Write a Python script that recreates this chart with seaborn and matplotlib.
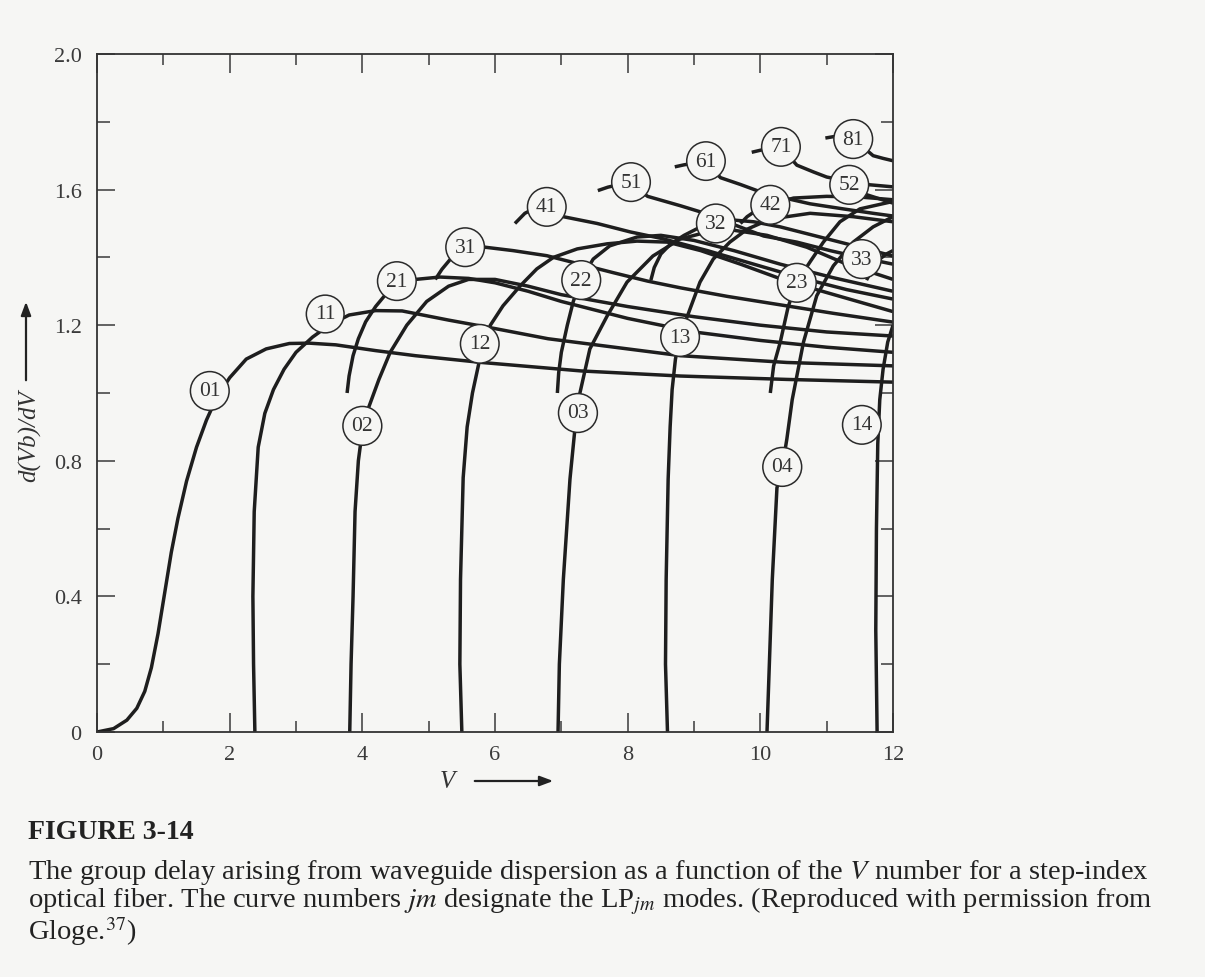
import matplotlib
matplotlib.use("Agg")
import matplotlib.pyplot as plt
import seaborn as sns
import numpy as np

sns.set_theme(style="ticks")
plt.rcParams["font.family"] = ["Liberation Serif", "DejaVu Serif"]
plt.rcParams["mathtext.fontset"] = "stix"

# ---------------- data ----------------
lp01_v = [0, 0.25, 0.45, 0.6, 0.72, 0.82, 0.92, 1.02, 1.12, 1.22, 1.35, 1.5, 1.65, 1.8, 2.0, 2.25, 2.55, 2.9, 3.2, 3.6, 4.2, 4.8, 5.8, 7.3, 8.8, 10.4, 12]
lp01_y = [0, 0.01, 0.035, 0.07, 0.12, 0.19, 0.29, 0.41, 0.53, 0.63, 0.74, 0.84, 0.92, 0.985, 1.045, 1.1, 1.13, 1.146, 1.147, 1.142, 1.125, 1.11, 1.09, 1.065, 1.05, 1.04, 1.032]

lp11_v = [2.38, 2.36, 2.35, 2.37, 2.43, 2.53, 2.66, 2.82, 3.0, 3.25, 3.5, 3.8, 4.2, 4.6, 5.3, 6.0, 6.8, 7.6, 8.8, 10.4, 12]
lp11_y = [0, 0.2, 0.4, 0.65, 0.84, 0.94, 1.01, 1.07, 1.12, 1.165, 1.2, 1.23, 1.243, 1.242, 1.215, 1.19, 1.16, 1.14, 1.11, 1.09, 1.08]

lp21_v = [3.77, 3.8, 3.86, 3.94, 4.05, 4.2, 4.37, 4.52, 4.8, 5.17, 5.6, 6.0, 6.5, 7.0, 8.0, 9.0, 10.0, 11.0, 12]
lp21_y = [1.0, 1.05, 1.11, 1.16, 1.21, 1.255, 1.295, 1.322, 1.335, 1.342, 1.338, 1.325, 1.30, 1.27, 1.22, 1.18, 1.155, 1.135, 1.12]

lp02_v = [3.81, 3.83, 3.86, 3.89, 3.94, 4.0, 4.1, 4.25, 4.42, 4.67, 4.97, 5.3, 5.6, 6.0, 6.5, 7.0, 8.0, 9.0, 10.0, 11.0, 12]
lp02_y = [0, 0.2, 0.4, 0.65, 0.8, 0.89, 0.96, 1.04, 1.12, 1.2, 1.27, 1.315, 1.335, 1.335, 1.315, 1.29, 1.255, 1.225, 1.2, 1.18, 1.168]

lp31_v = [5.1, 5.2, 5.35, 5.55, 5.85, 6.27, 6.78, 7.28, 7.78, 8.3, 8.8, 9.5, 10.3, 11.1, 12]
lp31_y = [1.335, 1.365, 1.40, 1.425, 1.43, 1.42, 1.405, 1.38, 1.355, 1.33, 1.31, 1.285, 1.26, 1.235, 1.209]

lp12_v = [5.5, 5.47, 5.48, 5.52, 5.58, 5.66, 5.77, 5.93, 6.12, 6.38, 6.63, 6.88, 7.24, 7.69, 8.14, 8.6, 9.1, 9.7, 10.4, 11.2, 12]
lp12_y = [0, 0.2, 0.45, 0.75, 0.9, 1.0, 1.1, 1.2, 1.257, 1.316, 1.366, 1.40, 1.425, 1.44, 1.448, 1.445, 1.42, 1.38, 1.33, 1.285, 1.24]

lp41_v = [6.3, 6.45, 6.6, 6.78, 7.03, 7.54, 8.04, 8.53, 9.2, 9.9, 10.6, 11.3, 12]
lp41_y = [1.50, 1.53, 1.545, 1.55, 1.52, 1.50, 1.475, 1.455, 1.42, 1.38, 1.34, 1.305, 1.277]

lp22_v = [6.94, 6.96, 7.0, 7.09, 7.18, 7.3, 7.48, 7.73, 8.14, 8.5, 9.0, 9.6, 10.3, 11.1, 12]
lp22_y = [1.0, 1.06, 1.12, 1.2, 1.27, 1.336, 1.395, 1.434, 1.46, 1.465, 1.45, 1.42, 1.38, 1.34, 1.30]

lp03_v = [6.95, 6.97, 7.03, 7.13, 7.2, 7.28, 7.43, 7.69, 7.99, 8.38, 8.79, 9.2, 9.6, 10.1, 10.7, 11.3, 12]
lp03_y = [0, 0.2, 0.45, 0.746, 0.885, 1.0, 1.13, 1.227, 1.327, 1.404, 1.454, 1.475, 1.48, 1.465, 1.43, 1.38, 1.335]

lp51_v = [7.55, 7.7, 7.85, 8.05, 8.3, 8.8, 9.1, 9.65, 10.05, 10.55, 11.05, 11.5, 12]
lp51_y = [1.597, 1.607, 1.614, 1.617, 1.58, 1.552, 1.534, 1.493, 1.463, 1.445, 1.42, 1.40, 1.38]

lp32_v = [8.35, 8.4, 8.5, 8.65, 8.85, 9.1, 9.33, 9.6, 9.9, 10.3, 10.8, 11.4, 12]
lp32_y = [1.333, 1.37, 1.41, 1.44, 1.465, 1.49, 1.50, 1.51, 1.505, 1.49, 1.465, 1.435, 1.404]

lp13_v = [8.6, 8.57, 8.58, 8.61, 8.64, 8.67, 8.72, 8.79, 8.94, 9.09, 9.29, 9.54, 9.8, 10.15, 10.75, 11.4, 12]
lp13_y = [0, 0.2, 0.45, 0.746, 0.9, 1.01, 1.1, 1.168, 1.248, 1.327, 1.395, 1.445, 1.483, 1.513, 1.53, 1.52, 1.505]

lp61_v = [8.71, 8.85, 9.0, 9.18, 9.4, 9.7, 9.95, 10.3, 10.75, 11.25, 11.7, 12]
lp61_y = [1.667, 1.673, 1.678, 1.68, 1.635, 1.615, 1.597, 1.578, 1.558, 1.543, 1.53, 1.522]

lp42_v = [9.7, 9.8, 9.95, 10.15, 10.5, 11.0, 11.5, 12]
lp42_y = [1.50, 1.52, 1.54, 1.555, 1.575, 1.58, 1.578, 1.57]

lp71_v = [9.87, 10.0, 10.15, 10.31, 10.55, 10.8, 11.0, 11.3, 11.6, 12]
lp71_y = [1.71, 1.716, 1.722, 1.725, 1.672, 1.652, 1.637, 1.625, 1.615, 1.608]

lp23_v = [10.15, 10.2, 10.3, 10.42, 10.55, 10.75, 10.95, 11.2, 11.5, 12]
lp23_y = [1.0, 1.08, 1.15, 1.255, 1.327, 1.387, 1.445, 1.505, 1.543, 1.565]

lp04_v = [10.1, 10.18, 10.25, 10.33, 10.4, 10.48, 10.65, 10.85, 11.1, 11.4, 11.7, 12]
lp04_y = [0, 0.45, 0.72, 0.78, 0.865, 0.98, 1.15, 1.287, 1.375, 1.445, 1.49, 1.52]

lp52_v = [11.07, 11.2, 11.34, 11.6, 12]
lp52_y = [1.60, 1.607, 1.61, 1.585, 1.56]

lp81_v = [10.98, 11.1, 11.25, 11.4, 11.7, 11.85, 12]
lp81_y = [1.752, 1.756, 1.758, 1.75, 1.70, 1.692, 1.685]

lp33_v = [11.6, 11.7, 11.8, 11.9, 12]
lp33_y = [1.333, 1.37, 1.395, 1.41, 1.42]

lp14_v = [11.76, 11.74, 11.75, 11.77, 11.8, 11.85, 11.92, 12]
lp14_y = [0, 0.3, 0.6, 0.85, 0.98, 1.07, 1.15, 1.2]

curves = [
    (lp01_v, lp01_y), (lp11_v, lp11_y), (lp21_v, lp21_y), (lp02_v, lp02_y),
    (lp31_v, lp31_y), (lp12_v, lp12_y), (lp41_v, lp41_y), (lp22_v, lp22_y),
    (lp03_v, lp03_y), (lp51_v, lp51_y), (lp32_v, lp32_y), (lp13_v, lp13_y),
    (lp61_v, lp61_y), (lp42_v, lp42_y), (lp71_v, lp71_y), (lp23_v, lp23_y),
    (lp04_v, lp04_y), (lp52_v, lp52_y), (lp81_v, lp81_y), (lp33_v, lp33_y),
    (lp14_v, lp14_y),
]

label_text = ["01", "11", "21", "31", "41", "51", "61", "71", "81",
              "02", "12", "22", "32", "42", "52",
              "03", "13", "23", "33", "04", "14"]
label_v = [1.70, 3.44, 4.52, 5.55, 6.78, 8.05, 9.18, 10.31, 11.40,
           4.00, 5.77, 7.30, 9.33, 10.15, 11.34,
           7.25, 8.79, 10.55, 11.53, 10.33, 11.53]
label_y = [1.006, 1.233, 1.33, 1.43, 1.549, 1.622, 1.684, 1.726, 1.749,
           0.903, 1.145, 1.333, 1.50, 1.555, 1.614,
           0.941, 1.165, 1.325, 1.395, 0.782, 0.906]

x_ticks = [0, 2, 4, 6, 8, 10, 12]
y_ticks = [0, 0.4, 0.8, 1.2, 1.6, 2.0]
y_tick_labels = ["0", "0.4", "0.8", "1.2", "1.6", "2.0"]

caption_title = "FIGURE 3-14"
caption_lines = [
    "The group delay arising from waveguide dispersion as a function of the $V$ number for a step-index",
    "optical fiber. The curve numbers $jm$ designate the LP$_{jm}$ modes. (Reproduced with permission from",
    "Gloge.$^{37}$)",
]

# ---------------- figure ----------------
BG = "#f6f6f4"
INK = "#1e1e1e"
fig = plt.figure(figsize=(12.05, 9.78), dpi=100, facecolor=BG)
ax = fig.add_axes([0.0805, 0.2505, 0.6606, 0.6933], facecolor=BG)

for v, y in curves:
    sns.lineplot(x=v, y=y, ax=ax, sort=False, estimator=None, color=INK,
                 lw=2.5, solid_capstyle="butt", solid_joinstyle="round", legend=False)

for t, v, y in zip(label_text, label_v, label_y):
    ax.text(v, y, t, ha="center", va="center", fontsize=15.5, color="#333333",
            family="Liberation Serif", zorder=6,
            bbox=dict(boxstyle="circle,pad=0.4", fc=BG, ec="#2a2a2a", lw=1.1))

ax.set_xlim(0, 12)
ax.set_ylim(0, 2.0)
ax.set_xticks(x_ticks)
ax.set_xticks([1, 3, 5, 7, 9, 11], minor=True)
ax.set_yticks(y_ticks)
ax.set_yticklabels(y_tick_labels)
ax.set_yticks([0.2, 0.6, 1.0, 1.4, 1.8], minor=True)
ax.tick_params(axis="both", which="both", direction="in", top=True, right=True,
               colors="#3a3a3a", labelsize=16, width=1.1)
ax.tick_params(axis="x", which="major", length=14, pad=9)
ax.tick_params(axis="x", which="minor", length=8)
ax.tick_params(axis="y", which="major", length=13, pad=11)
ax.tick_params(axis="y", which="minor", length=9)
for s in ax.spines.values():
    s.set_color("#333333")
    s.set_linewidth(1.3)
ax.set_xlabel("")
ax.set_ylabel("")

# axis labels with arrows (figure coords)
fig.text(447 / 1205, 1 - 782 / 978, "V", style="italic", fontsize=18,
         ha="center", va="center", color="#333333")
fig.add_artist(matplotlib.patches.FancyArrowPatch(
    (472 / 1205, 1 - 782 / 978), (556 / 1205, 1 - 782 / 978),
    transform=fig.transFigure, arrowstyle="-|>,head_length=8,head_width=3",
    color="#222222", lw=1.6))
fig.text(30 / 1205, 1 - 436 / 978, "d(Vb)/dV", style="italic", fontsize=18,
         rotation=90, ha="center", va="center", color="#333333")
fig.add_artist(matplotlib.patches.FancyArrowPatch(
    (26 / 1205, 1 - 384 / 978), (26 / 1205, 1 - 300 / 978),
    transform=fig.transFigure, arrowstyle="-|>,head_length=8,head_width=3",
    color="#222222", lw=1.6))

# caption
fig.text(28 / 1205, 1 - 839 / 978, caption_title, fontsize=20, weight="bold",
         ha="left", va="baseline", color="#222222")
fig.text(28 / 1205, 1 - 858 / 978, "\n".join(caption_lines), fontsize=20.5,
         ha="left", va="top", color="#222222", linespacing=0.93)

fig.savefig("out.png", dpi=100, facecolor=BG)
